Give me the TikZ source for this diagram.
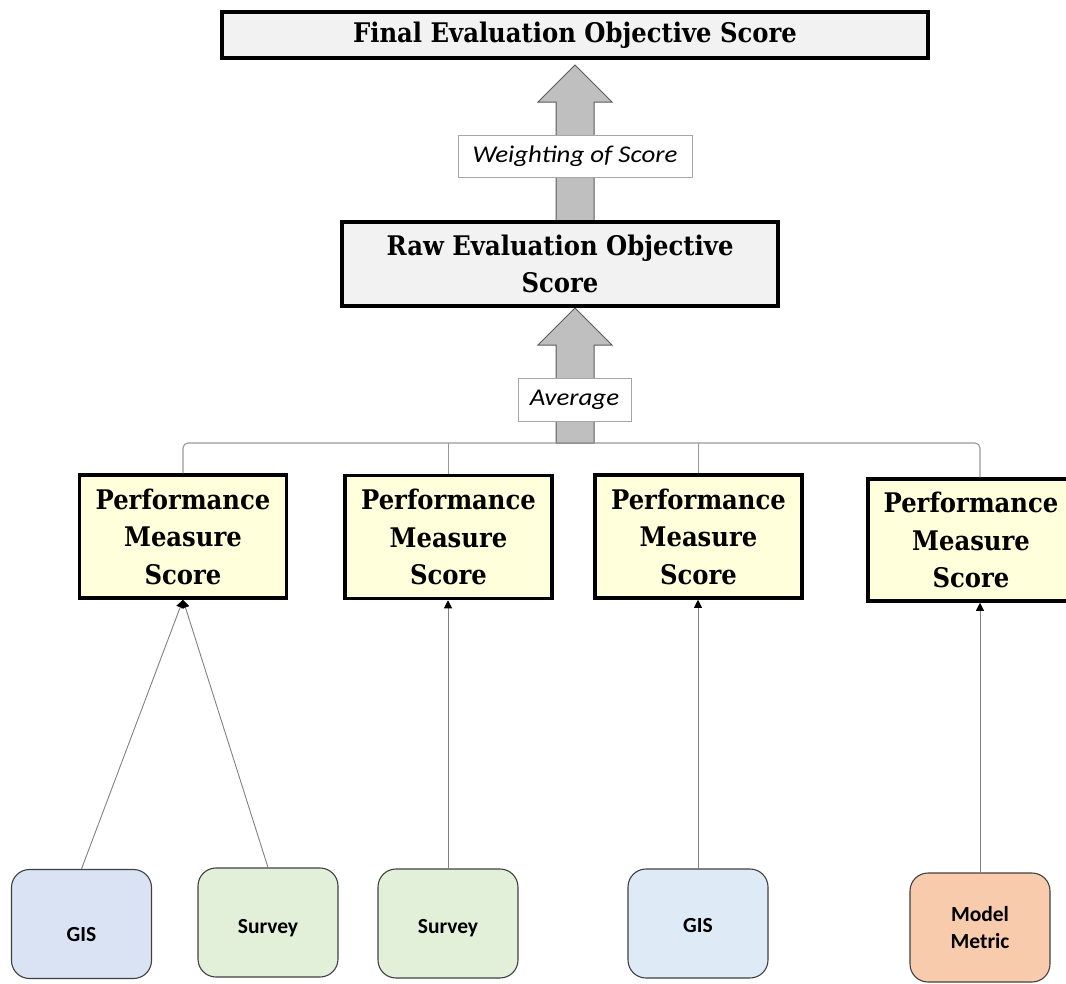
\documentclass[tikz,border=0pt]{standalone}
\usepackage{fontspec}
\usetikzlibrary{arrows.meta,calc}

\newfontfamily\headserif[FakeStretch=0.9]{DejaVu Serif}
\newfontfamily\labelsans[FakeStretch=1.12]{Carlito}
\newfontfamily\srcsans{Carlito}

\definecolor{boxgray}{HTML}{F2F2F2}
\definecolor{pmsyellow}{HTML}{FFFFDB}
\definecolor{arrowgray}{HTML}{BFBFBF}
\definecolor{arrowedge}{HTML}{5A5A5A}
\definecolor{gisblue}{HTML}{DAE3F3}
\definecolor{gislight}{HTML}{DEEBF7}
\definecolor{surveygreen}{HTML}{E2F0D9}
\definecolor{modelorange}{HTML}{F8CBAD}

\tikzset{
  scorebox/.style={draw=black, line width=3.5pt, fill=boxgray, align=center,
    inner sep=0pt, font=\headserif\bfseries\fontsize{27}{37.5}\selectfont},
  pmsbox/.style={scorebox, fill=pmsyellow, minimum width=207pt, minimum height=123pt},
  tagbox/.style={draw=black!35, line width=0.8pt, fill=white, inner sep=0pt,
    font=\labelsans\itshape\fontsize{24}{28}\selectfont},
  srcbox/.style={draw=black!75, line width=1.1pt, rounded corners=18pt,
    minimum width=140pt, minimum height=109pt, align=center, inner sep=0pt,
    font=\srcsans\bfseries\fontsize{21.5}{27}\selectfont},
  bigarrow/.style={draw=arrowedge, line width=1pt, fill=arrowgray, line join=miter},
  busline/.style={draw=black!40, line width=1.1pt},
  feed/.style={draw=black!50, line width=0.9pt,
    -{Triangle[length=8pt,width=8pt,color=black]}}
}

\begin{document}
\begin{tikzpicture}[x=1pt,y=-1pt]
\useasboundingbox (0,0) rectangle (1066,983);
\clip (0,0) rectangle (1066,983);

% block arrows between the score levels
\draw[bigarrow] (556,222) -- (556,102) -- (538,102) -- (575,65) -- (612,102)
  -- (594,102) -- (594,222) -- cycle;
\draw[bigarrow] (556,443) -- (556,345) -- (538,345) -- (575,308) -- (612,345)
  -- (594,345) -- (594,443) -- cycle;
\coordinate (bus) at (575,443);

% score boxes
\node[scorebox, minimum width=706pt, minimum height=46pt] (final) at (575,35)
  {Final Evaluation Objective Score};
\node[scorebox, minimum width=436pt, minimum height=84pt] (raw) at (560,264)
  {Raw Evaluation Objective\\Score};

% operation labels on the arrows
\node[tagbox, minimum width=234pt, minimum height=42pt] (weight) at (575,156)
  {Weighting of Score};
\node[tagbox, minimum width=113pt, minimum height=43pt] (avg) at (574.5,399.5)
  {Average};

% performance measures
\node[pmsbox] (pms1) at (183,536.5) {Performance\\Measure\\Score};
\node[pmsbox] (pms2) at (448.5,537) {Performance\\Measure\\Score};
\node[pmsbox] (pms3) at (698.5,536.5) {Performance\\Measure\\Score};
\node[pmsbox, minimum width=206pt, minimum height=122pt] (pms4) at (971,540)
  {Performance\\Measure\\Score};

% data sources
\node[srcbox, fill=gisblue, text height=35pt] (gis1) at (81.5,924) {GIS};
\node[srcbox, fill=surveygreen, text height=26pt] (sur1) at (268,922.5) {Survey};
\node[srcbox, fill=surveygreen, text height=23pt] (sur2) at (448,923.5) {Survey};
\node[srcbox, fill=gislight, text height=19pt] (gis2) at (698,923.5) {GIS};
\node[srcbox, fill=modelorange] (model) at (980,927.5) {Model\\Metric};

% averaging bus
\draw[busline, rounded corners=5pt] (pms1.north) |- (bus)
  -| (model.north |- pms4.north);
\draw[busline] (pms2.north) -- (pms2.north |- bus);
\draw[busline] (pms3.north) -- (pms3.north |- bus);

% inputs to each performance measure
\draw[feed] (gis1.north) -- (pms1.south);
\draw[feed] (sur1.north) -- (pms1.south);
\draw[feed] (sur2.north) -- (sur2.north |- pms2.south);
\draw[feed] (gis2.north) -- (gis2.north |- pms3.south);
\draw[feed] (model.north) -- (model.north |- pms4.south);
\end{tikzpicture}
\end{document}
